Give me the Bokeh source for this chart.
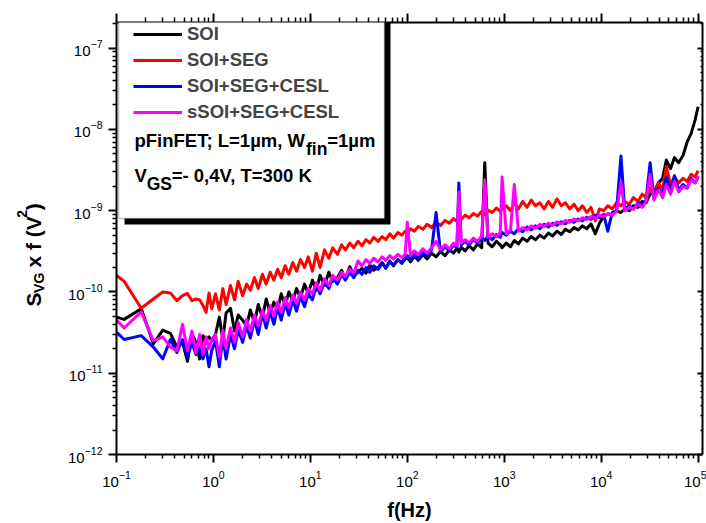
import numpy as np
from bokeh.plotting import figure
from bokeh.layouts import row
from bokeh.models import (Range1d, LogAxis, LogTicker, FixedTicker, LogTickFormatter, Legend,
                          LegendItem, Label, BoxAnnotation)
from bokeh.embed import file_html
from bokeh.resources import INLINE

# ---------------- data ----------------
F_HZ = [0.10, 0.12, 0.18, 0.24, 0.30, 0.36, 0.42, 0.48, 0.54, 0.60, 0.66, 0.72, 0.78, 0.84, 0.90, 0.96,
        1.05, 1.15, 1.25, 1.35, 1.5, 1.65, 1.8, 2.0, 2.2, 2.4, 2.65, 2.9, 3.2, 3.5, 3.85, 4.2, 4.6, 5.0,
        5.5, 6.0, 6.6, 7.2, 7.9, 8.7, 9.5,
        10.5, 11.5, 12.6, 14, 15.5, 17, 19, 21, 23, 25.5, 28, 31, 34, 37.5, 41, 45, 50, 55, 60, 66, 72,
        80, 88, 95,
        100, 108, 118, 130, 145, 160, 178, 198, 220, 245, 272, 300, 325, 340, 360, 395, 435, 480, 530,
        585, 630, 680, 750, 830, 910, 950,
        1050, 1160, 1270, 1400, 1550, 1720, 1900, 2100, 2330, 2580, 2850, 3150, 3500, 3870, 4280, 4740,
        5250, 5800, 6420, 7100, 7850, 8700, 9600,
        10600, 11700, 13000, 14400, 16000, 17500, 19500, 21500, 24000, 26500, 29000, 32000, 35000,
        39000, 43000, 47000, 52000, 57000, 63000, 70000, 77000, 85000, 93000, 100000]

# S_VG x f values in units of 1e-12 V^2
SOI = [49, 46, 62, 23, 34, 31, 21, 24, 14, 31, 24, 15, 29, 26, 28, 25,
       30, 49, 26, 55, 63, 33, 52, 45, 38, 60, 42, 70, 48, 82, 55, 75, 60, 95, 68, 100, 78, 110, 85, 125, 95,
       140, 105, 160, 120, 175, 135, 150, 185, 145, 205, 160, 175, 195, 170, 215, 185, 200, 230, 195, 240,
       210, 250, 225, 255,
       265, 235, 275, 245, 290, 255, 300, 270, 315, 280, 330, 300, 345, 310, 355, 320, 370, 330, 390, 350,
       3900, 400, 360, 420, 380, 350,
       400, 360, 430, 390, 460, 420, 480, 440, 500, 460, 530, 490, 560, 510, 590, 550, 620, 580, 650, 600,
       690, 520, 700,
       850, 920, 880, 1000, 950, 1050, 1000, 1150, 1100, 1300, 1250, 1600, 1700, 2200, 2500, 4200, 3300,
       4500, 3900, 4800, 7000, 9000, 13000, 19000]

SOI_SEG = [160, 135, 63, 82, 100, 97, 78, 90, 96, 78, 82, 80, 68, 56, 97, 62,
           95, 60, 110, 70, 120, 80, 135, 90, 125, 105, 150, 110, 165, 125, 175, 140, 190, 150, 210, 165,
           230, 180, 250, 200, 270,
           180, 300, 200, 330, 260, 350, 290, 380, 330, 400, 350, 420, 370, 440, 400, 470, 420, 480, 440,
           520, 460, 540, 500, 560,
           520, 600, 560, 640, 590, 680, 620, 720, 660, 760, 700, 800, 740, 840, 780, 880, 820, 920, 860,
           980, 900, 1020, 950, 1080, 980, 1050,
           1150, 1000, 1250, 1050, 1300, 1100, 1350, 1150, 1250, 1050, 1300, 1100, 1400, 1150, 1250, 1050,
           1200, 1000, 1150, 950, 1100, 750, 1050,
           1000, 1150, 1050, 1250, 1150, 1300, 1200, 1450, 1300, 1600, 1450, 1900, 1600, 2200, 1800, 3500,
           2100, 2600, 2200, 2500, 2300, 2800, 2600, 3100]

SOI_SEG_CESL = [32, 26, 29, 21, 15, 26, 18, 26, 16, 24, 17, 21, 15, 20, 12, 19,
                25, 12, 28, 15, 30, 20, 34, 24, 38, 27, 45, 30, 55, 36, 58, 40, 65, 45, 72, 52, 80, 58, 88,
                66, 95,
                80, 120, 95, 135, 110, 150, 125, 165, 140, 175, 150, 185, 165, 200, 175, 210, 190, 225, 200,
                235, 215, 250, 230, 265,
                280, 245, 290, 260, 310, 280, 330, 950, 310, 360, 320, 380, 350, 2200, 380, 420, 380, 440,
                400, 470, 430, 490, 440, 510, 470, 540,
                500, 560, 520, 600, 550, 630, 580, 650, 600, 680, 630, 700, 660, 730, 690, 760, 720, 790,
                750, 830, 780, 880, 820,
                900, 560, 950, 1000, 4700, 1050, 1150, 1050, 1250, 1150, 1350, 3900, 1400, 1900, 1500, 2600,
                1700, 2700, 1800, 2100, 1900, 2500, 2200, 2600]

SSOI_SEG_CESL = [45, 36, 57, 25, 28, 21, 19, 40, 19, 33, 18, 30, 17, 28, 20, 26,
                 30, 16, 34, 20, 36, 24, 42, 28, 46, 33, 52, 38, 60, 44, 68, 50, 75, 56, 85, 64, 92, 72, 100,
                 80, 110,
                 95, 130, 105, 145, 120, 160, 140, 175, 155, 190, 170, 240, 210, 250, 225, 260, 235, 270, 245,
                 280, 255, 290, 265, 290,
                 720, 280, 320, 290, 340, 300, 350, 420, 330, 380, 340, 400, 370, 1700, 400, 440, 400, 460,
                 420, 490, 2400, 470, 520, 480, 540, 2600,
                 520, 580, 2100, 560, 620, 580, 650, 610, 680, 640, 700, 660, 730, 690, 760, 720, 790, 750,
                 820, 780, 850, 810, 880,
                 850, 920, 880, 980, 2200, 1000, 1100, 1050, 1200, 1100, 1300, 2800, 1350, 1800, 1450, 2100,
                 1600, 2300, 1700, 2000, 1900, 2400, 2200, 2700]

SERIES_NAMES = ["SOI", "SOI+SEG", "SOI+SEG+CESL", "sSOI+SEG+CESL"]
SERIES_COLORS = ["#000000", "#ff0000", "#0000ff", "#ff00ff"]
UNIT = 1e-12

X_TICKS = [1e-1, 1e0, 1e1, 1e2, 1e3, 1e4, 1e5]
Y_TICKS = [1e-12, 1e-11, 1e-10, 1e-9, 1e-8, 1e-7]

# ---------------- layout ----------------
FONT = "Liberation Sans"
PAGE_W, PAGE_H = 706, 523
LAB_W = 50                      # narrow figure holding the rotated y-axis title
MAIN_W = PAGE_W - LAB_W
FRAME_L, FRAME_R, FRAME_T, FRAME_B = 116, 702, 22, 454   # page pixels of the plot frame


def fx(page_x):
    return page_x - FRAME_L


def fy(page_y):
    return FRAME_B - page_y


p = figure(width=MAIN_W, height=PAGE_H, x_axis_type="log", y_axis_type="log",
           x_range=Range1d(0.1, 1.11e5), y_range=Range1d(1e-12, 2.07e-7),
           output_backend="svg", toolbar_location=None,
           min_border_left=FRAME_L - LAB_W, min_border_right=PAGE_W - FRAME_R,
           min_border_top=FRAME_T, min_border_bottom=PAGE_H - FRAME_B)
p.grid.visible = False
p.outline_line_color = None
p.background_fill_color = "white"
p.border_fill_color = "white"

x_minor = [m * t for t in X_TICKS for m in range(2, 10)]
y_minor = [m * t for t in Y_TICKS for m in range(2, 10)]

top_ax = LogAxis()
right_ax = LogAxis()
p.add_layout(top_ax, "above")
p.add_layout(right_ax, "right")


def style(ax, ticks, minor, tout, tin, mout, min_, labels):
    ax.ticker = FixedTicker(ticks=ticks, minor_ticks=minor)
    ax.formatter = LogTickFormatter(ticker=LogTicker())
    ax.axis_line_width = 2
    ax.axis_line_color = "black"
    ax.major_tick_line_width = 2
    ax.minor_tick_line_width = 1.5
    ax.major_tick_out = tout
    ax.major_tick_in = tin
    ax.minor_tick_out = mout
    ax.minor_tick_in = min_
    if labels:
        ax.major_label_text_font = FONT
        ax.major_label_text_font_size = "15px"
        ax.major_label_text_color = "black"
    else:
        ax.major_label_text_font_size = "1px"
        ax.major_label_text_alpha = 0
        ax.major_label_standoff = 0


bottom_ax = p.below[0]
left_ax = p.left[0]
style(bottom_ax, X_TICKS, x_minor, 8, 0, 4, 0, True)
bottom_ax.major_label_standoff = 8
bottom_ax.axis_label = "f(Hz)"
bottom_ax.axis_label_text_font = FONT
bottom_ax.axis_label_text_font_size = "20px"
bottom_ax.axis_label_text_font_style = "bold"
bottom_ax.axis_label_text_color = "black"
bottom_ax.axis_label_standoff = 9
style(left_ax, Y_TICKS, y_minor, 8, 0, 4, 0, True)
left_ax.major_label_standoff = 6
style(top_ax, X_TICKS, x_minor, 9, 0, 5, 0, False)
style(right_ax, Y_TICKS, y_minor, 0, 5, 0, 2, False)

f = np.array(F_HZ)
renderers = []
for vals, color in zip([SOI, SOI_SEG, SOI_SEG_CESL, SSOI_SEG_CESL], SERIES_COLORS):
    r = p.line(f, np.array(vals) * UNIT, line_color=color, line_width=3, line_join="round")
    renderers.append(r)

# ---------------- legend box ----------------
shadow = BoxAnnotation(left=fx(124), right=fx(390), top=fy(17), bottom=fy(224),
                       left_units="screen", right_units="screen", top_units="screen", bottom_units="screen",
                       fill_color="black", fill_alpha=1.0, line_color=None)
box = BoxAnnotation(left=fx(118), right=fx(384), top=fy(11), bottom=fy(218),
                    left_units="screen", right_units="screen", top_units="screen", bottom_units="screen",
                    fill_color="white", fill_alpha=1.0, line_color="#333333", line_width=1.5)
p.add_layout(shadow)
p.add_layout(box)

legend = Legend(items=[LegendItem(label=n, renderers=[r]) for n, r in zip(SERIES_NAMES, renderers)],
                location=(fx(133), fy(124.5)), orientation="vertical", padding=0, margin=0, spacing=0,
                glyph_width=49, glyph_height=26, label_height=26, label_standoff=5,
                label_text_font=FONT, label_text_font_size="18.5px", label_text_font_style="bold",
                border_line_color=None, background_fill_alpha=0)
p.add_layout(legend)


def lab(fig, x, y, text, size, angle=0.0):
    fig.add_layout(Label(x=x, y=y, x_units="screen", y_units="screen", text=text, angle=angle,
                         text_font=FONT, text_font_size=f"{size}px", text_font_style="bold",
                         text_color="black", text_align="left", text_baseline="alphabetic"))


# legend extra text lines
x0 = fx(134)
lab(p, x0, fy(140), "pFinFET; L=1µm, W", 18.5)
lab(p, x0 + 171.5, fy(148), "fin", 17.5)
lab(p, x0 + 171.5 + 21.2, fy(140), "=1µm", 18.5)
lab(p, x0, fy(175), "V", 18.5)
lab(p, x0 + 12.2, fy(183), "GS", 17.5)
lab(p, x0 + 12.2 + 25.0, fy(175), "=- 0,4V, T=300 K", 18.5)

# ---------------- y-axis title in its own narrow figure ----------------
# (its frame is aligned with the main frame, so the same vertical reference applies)
lf = figure(width=LAB_W, height=PAGE_H, x_range=Range1d(0, 1), y_range=Range1d(0, 1),
            x_axis_location=None, y_axis_location=None, min_border=0,
            output_backend="svg", toolbar_location=None)
lf.grid.visible = False
lf.outline_line_color = None
lf.border_fill_color = "white"
lf.background_fill_color = "white"

a = np.pi / 2
y0 = fy(306)
lab(lf, 33, y0, "S", 21, a)
lab(lf, 38, y0 + 13.6, "VG", 14, a)
lab(lf, 33, y0 + 13.6 + 19.6 + 5.7, "x f (V", 21, a)
lab(lf, 21, y0 + 13.6 + 19.6 + 5.7 + 49.8, "2", 14, a)
lab(lf, 33, y0 + 13.6 + 19.6 + 5.7 + 49.8 + 7.6, ")", 21, a)

layout = row(lf, p, spacing=0)
open("out.html", "w").write(file_html(layout, INLINE))
